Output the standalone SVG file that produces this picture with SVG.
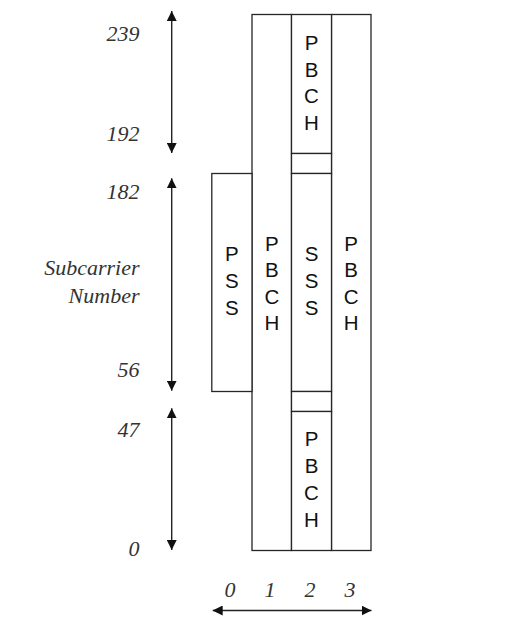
<svg xmlns="http://www.w3.org/2000/svg" width="519" height="630" viewBox="0 0 519 630">
<defs>
<style>
.box{fill:#fff;stroke:#262626;stroke-width:1.3}
.lbl{font-family:"Liberation Sans",Arial,sans-serif;font-size:20.5px;fill:#111;text-anchor:middle}
.num{font-family:"Liberation Serif","Times New Roman",serif;font-style:italic;font-size:22px;fill:#333}
.ax{stroke:#222;stroke-width:1.4;fill:none;marker-start:url(#ah);marker-end:url(#ah)}
</style>
<marker id="ah" markerUnits="userSpaceOnUse" markerWidth="10" markerHeight="10" refX="10" refY="5" orient="auto-start-reverse" viewBox="0 0 10 10">
<path d="M0,0 L10,5 L0,10 z" fill="#111"/>
</marker>
</defs>
<rect width="519" height="630" fill="#fff"/>

<g id="col3">
<rect class="box" x="331.5" y="14.5" width="39.5" height="536"/>
<text class="lbl"><tspan x="351.2" y="250.5">P</tspan><tspan x="351.2" y="277">B</tspan><tspan x="351.2" y="303.5">C</tspan><tspan x="351.2" y="330">H</tspan></text>
</g>
<g id="col1">
<rect class="box" x="252" y="14.5" width="39.5" height="536"/>
<text class="lbl"><tspan x="271.8" y="250.5">P</tspan><tspan x="271.8" y="277">B</tspan><tspan x="271.8" y="303.5">C</tspan><tspan x="271.8" y="330">H</tspan></text>
</g>
<g id="pss">
<rect class="box" x="211.8" y="173.5" width="40.2" height="218"/>
<text class="lbl"><tspan x="231.9" y="260.5">P</tspan><tspan x="231.9" y="287.5">S</tspan><tspan x="231.9" y="314.5">S</tspan></text>
</g>
<g id="pbch-top">
<rect class="box" x="291.5" y="14.5" width="40" height="139"/>
<text class="lbl"><tspan x="311.5" y="50">P</tspan><tspan x="311.5" y="76.5">B</tspan><tspan x="311.5" y="103">C</tspan><tspan x="311.5" y="129.5">H</tspan></text>
</g>
<g id="gap-top">
<rect class="box" x="291.5" y="153.5" width="40" height="20"/>
</g>
<g id="sss">
<rect class="box" x="291.5" y="173.5" width="40" height="218"/>
<text class="lbl"><tspan x="311.5" y="260.5">S</tspan><tspan x="311.5" y="287.5">S</tspan><tspan x="311.5" y="314.5">S</tspan></text>
</g>
<g id="gap-bottom">
<rect class="box" x="291.5" y="391.5" width="40" height="20"/>
</g>
<g id="pbch-bottom">
<rect class="box" x="291.5" y="411.5" width="40" height="139"/>
<text class="lbl"><tspan x="311.5" y="445.5">P</tspan><tspan x="311.5" y="472.5">B</tspan><tspan x="311.5" y="499.5">C</tspan><tspan x="311.5" y="526.5">H</tspan></text>
</g>

<g id="connectors">
<line class="ax" x1="171.7" y1="11" x2="171.7" y2="153"/>
<line class="ax" x1="171.7" y1="178.3" x2="171.7" y2="390.7"/>
<line class="ax" x1="171.7" y1="408.3" x2="171.7" y2="550"/>
<line class="ax" x1="212.7" y1="610.5" x2="371.5" y2="610.5"/>
</g>

<g id="labels">
<text class="num" x="139.5" y="40.5" text-anchor="end">239</text>
<text class="num" x="139.5" y="140.5" text-anchor="end">192</text>
<text class="num" x="139.5" y="199" text-anchor="end">182</text>
<text class="num" x="139.5" y="275" text-anchor="end">Subcarrier</text>
<text class="num" x="139.5" y="302.5" text-anchor="end">Number</text>
<text class="num" x="139.5" y="377" text-anchor="end">56</text>
<text class="num" x="139.5" y="437.3" text-anchor="end">47</text>
<text class="num" x="139.5" y="556" text-anchor="end">0</text>
<text class="num" x="230" y="596.7" text-anchor="middle">0</text>
<text class="num" x="270" y="596.7" text-anchor="middle">1</text>
<text class="num" x="310" y="596.7" text-anchor="middle">2</text>
<text class="num" x="350" y="596.7" text-anchor="middle">3</text>
</g>
</svg>
